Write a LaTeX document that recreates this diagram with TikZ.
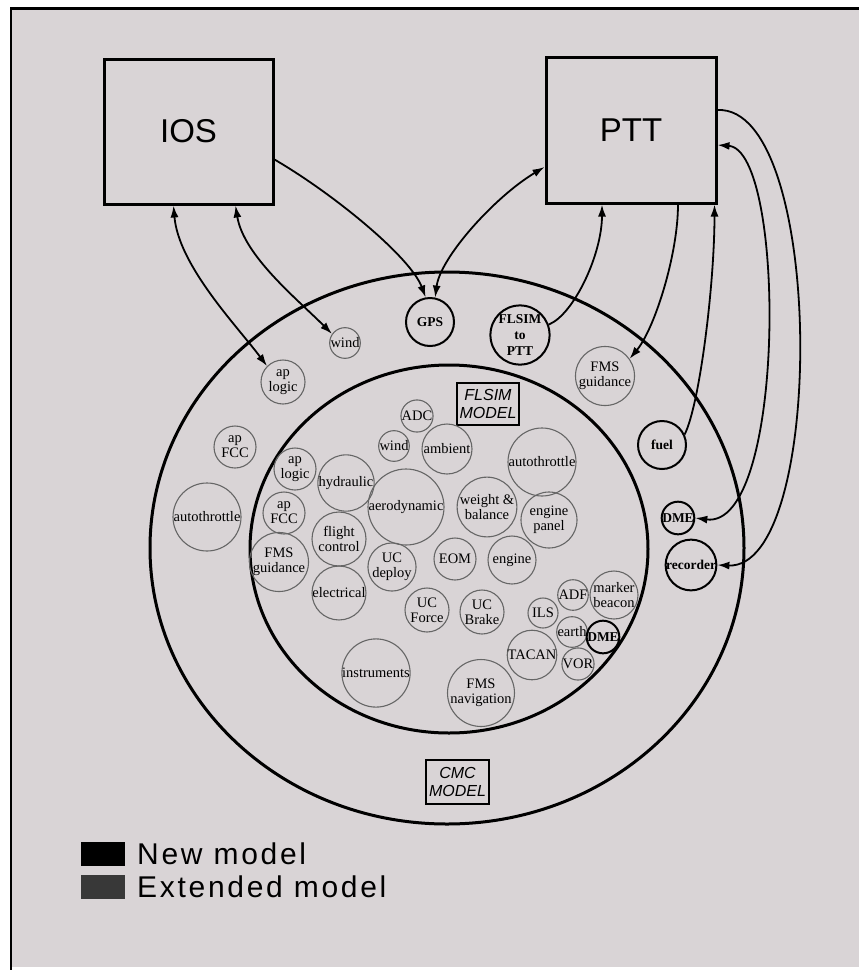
\documentclass[tikz,border=0pt]{standalone}
\usepackage{fontspec}
\setmainfont{Liberation Serif}
\newfontfamily\hv{Liberation Sans}
\usetikzlibrary{arrows.meta,calc}
\definecolor{paper}{RGB}{217,212,214}
\definecolor{extgray}{RGB}{56,56,56}
\begin{document}
\begin{tikzpicture}[x=1pt,y=-1pt,
  oc/.style={circle,draw=black!60,line width=1.1pt,inner sep=0pt,align=center,font=\fontsize{14.5}{15}\selectfont},
  nc/.style={circle,draw=black,line width=2pt,inner sep=0pt,align=center,font=\fontsize{13.5}{16}\selectfont\bfseries},
  bigbox/.style={draw,line width=3pt,inner sep=0pt,font=\hv\fontsize{33}{33}\selectfont},
  lblbox/.style={draw,line width=2.5pt,inner sep=0pt,align=center,font=\hv\itshape\fontsize{16}{18}\selectfont},
  con/.style={line width=1.8pt},
  tip/.style={-{Latex[length=12pt,width=8pt]}},
  both/.style={{Latex[length=12pt,width=8pt]}-{Latex[length=12pt,width=8pt]}},
  legtxt/.style={anchor=west,inner sep=0pt,font=\hv\fontsize{30}{30}\selectfont\addfontfeature{LetterSpace=9}}
]
\useasboundingbox (0,0) rectangle (859,970);
\fill[white] (0,0) rectangle (859,970);
\fill[paper] (11,8) rectangle (859,967);
\draw[line width=3pt] (10,8) -- (859,8);
\draw[line width=2.2pt] (11,8) -- (11,970);

% main boxes
\node[bigbox,minimum width=169pt,minimum height=145pt] (ios) at (188.5,131.5) {IOS};
\node[bigbox,minimum width=170pt,minimum height=146pt] (ptt) at (631,130) {PTT};

% model ellipses
\draw[line width=3pt] (447,548) ellipse [x radius=297pt, y radius=276pt];
\draw[line width=3pt] (449,549) ellipse [x radius=199pt, y radius=184pt];

% outer ring (CMC model)
\node[oc,minimum size=30pt] (wind1) at (345,343) {wind};
\node[nc,minimum size=48pt] (gps) at (430,322) {GPS};
\node[nc,minimum size=54pt] (flsim) at (520,335) {FLSIM\\to\\PTT};
\node[oc,minimum size=44pt] (aplog1) at (283,382) {ap\\logic};
\node[oc,minimum size=42pt] (apfcc1) at (235,447) {ap\\FCC};
\node[oc,minimum size=68pt] (at1) at (207,517) {autothrottle};
\node[oc,minimum size=56pt] (fmsg1) at (605,376) {FMS\\guidance};
\node[nc,minimum size=48pt] (fuel) at (662,445) {fuel};
\node[nc,minimum size=32pt] (dme1) at (678,518) {DME};
\node[nc,minimum size=50pt] (rec) at (691,565) {recorder};
\node[lblbox,minimum width=63pt,minimum height=44pt] (cmc) at (457.5,782) {CMC\\MODEL};

% inner (FLSIM model)
\node[lblbox,minimum width=62pt,minimum height=42pt] (flsimm) at (488,404) {FLSIM\\MODEL};
\node[oc,minimum size=30pt] (adc) at (417,416) {ADC};
\node[oc,minimum size=30pt] (wind2) at (394,446) {wind};
\node[oc,minimum size=50pt] (amb) at (447,449) {ambient};
\node[oc,minimum size=68pt] (at2) at (542,462) {autothrottle};
\node[oc,minimum size=76pt] (aero) at (406,507) {aerodynamic};
\node[oc,minimum size=58pt] (wb) at (487,507) {weight \&\\balance};
\node[oc,minimum size=56pt] (ep) at (549,520) {engine\\panel};
\node[oc,minimum size=42pt] (eom) at (455,559) {EOM};
\node[oc,minimum size=48pt] (eng) at (512,560) {engine};
\node[oc,minimum size=54pt] (hyd) at (346,483) {hydraulic};
\node[oc,minimum size=42pt] (aplog2) at (295,469) {ap\\logic};
\node[oc,minimum size=42pt] (apfcc2) at (284,513) {ap\\FCC};
\node[oc,minimum size=54pt] (fc) at (339,539) {flight\\control};
\node[oc,minimum size=54pt] (fmsg2) at (279,562) {FMS\\guidance};
\node[oc,minimum size=46pt] (ucd) at (392,567) {UC\\deploy};
\node[oc,minimum size=52pt] (elec) at (339,593) {electrical};
\node[oc,minimum size=44pt] (ucf) at (427,610) {UC\\Force};
\node[oc,minimum size=44pt] (ucb) at (482,612) {UC\\Brake};
\node[oc,minimum size=68pt] (instr) at (376,673) {instruments};
\node[oc,minimum size=62pt] (fmsn) at (481,693) {FMS\\navigation};
\node[oc,minimum size=30pt] (ils) at (543,613) {ILS};
\node[oc,minimum size=30pt] (adf) at (573,595) {ADF};
\node[oc,minimum size=48pt] (mb) at (614,595) {marker\\beacon};
\node[oc,minimum size=30pt] (earth) at (572,632) {earth};
\node[nc,minimum size=32pt] (dme2) at (603,637) {DME};
\node[oc,minimum size=48pt] (tacan) at (532,655) {TACAN};
\node[oc,minimum size=30pt] (vor) at (578,664) {VOR};

% connectors
\draw[con,tip] ($(ios.east)+(0,28)$) .. controls +(60,35) and +(-15,-40) .. (gps.100);
\draw[con,both] ($(ptt.west)+(0,37)$) .. controls +(-50,30) and +(5,-40) .. (gps.78);
\draw[con,both] ($(ios.south)+(-15,0)$) .. controls +(5,60) and +(-30,-40) .. (aplog1.135);
\draw[con,both] ($(ios.south)+(47,0)$) .. controls +(8,50) and +(-35,-35) .. (wind1.145);
\draw[con,tip] (flsim.20) .. controls +(25,-10) and +(0,50) .. ($(ptt.south)+(-29,0)$);
\draw[con,tip] ($(ptt.south)+(47,0)$) .. controls +(0,50) and +(25,-30) .. (fmsg1.35);
\draw[con,tip] (fuel.25) .. controls +(15,-30) and +(0,80) .. ($(ptt.south east)+(-3,0)$);
\draw[con,both] ($(ptt.east)+(0,15)$) .. controls +(69,5) and +(91,12) .. (dme1.east);
\draw[con,tip] ($(ptt.east)+(0,-20)$) .. controls +(108,-5) and +(109,5) .. (rec.east);

% legend
\node[fill=black,minimum width=44pt,minimum height=24pt,inner sep=0pt] (newbox) at (103,854) {};
\node[legtxt] (newtxt) at (137,854) {New model};
\node[fill=extgray,minimum width=44pt,minimum height=24pt,inner sep=0pt] (extbox) at (103,887) {};
\node[legtxt] (exttxt) at (137,887) {Extended model};
\end{tikzpicture}
\end{document}
